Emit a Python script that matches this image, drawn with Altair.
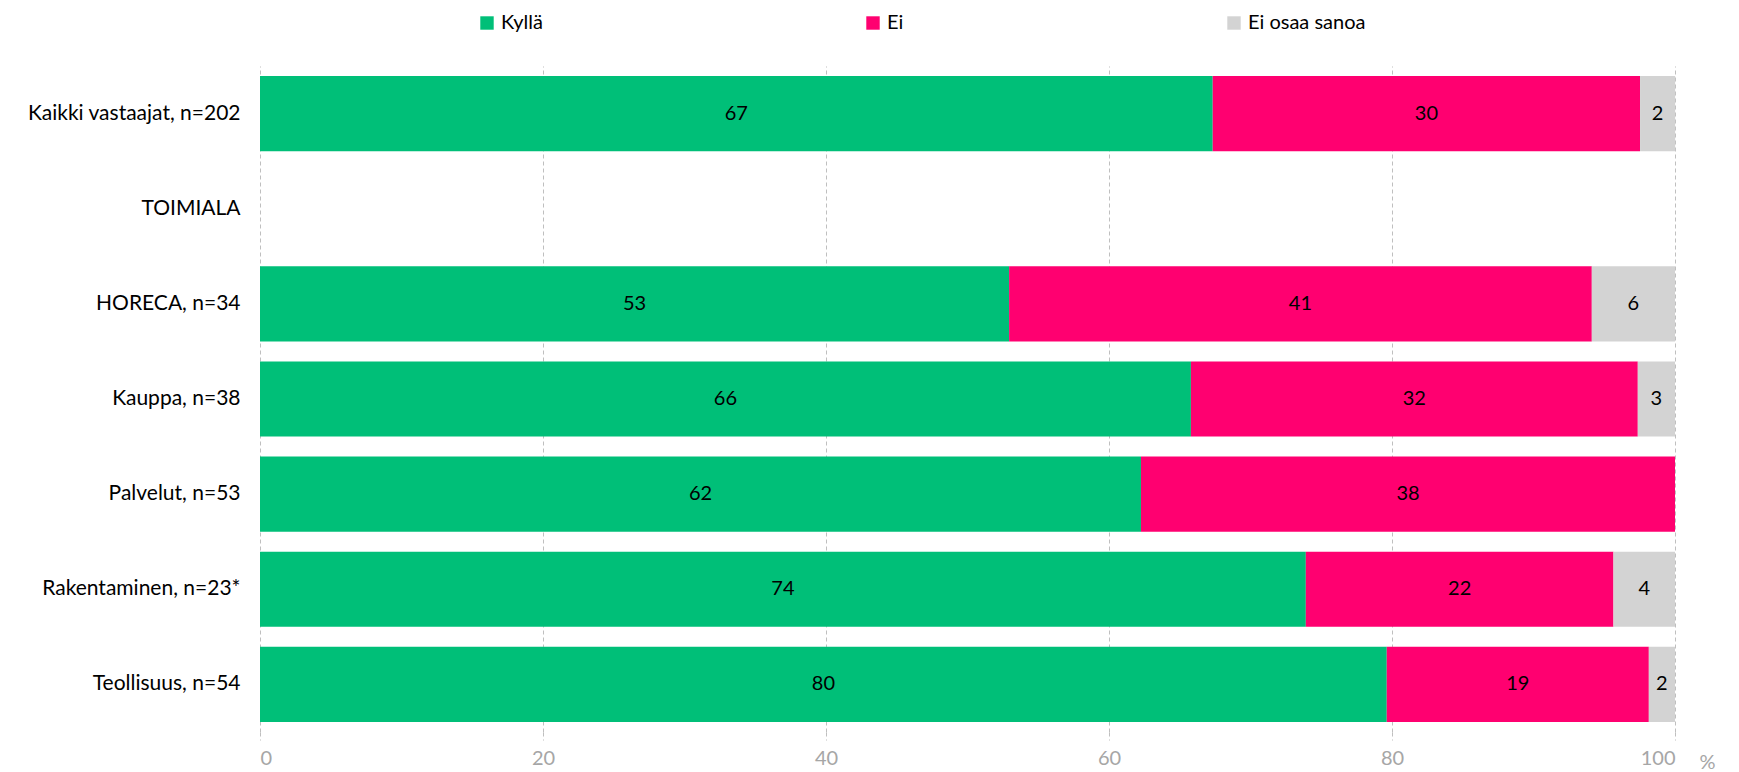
import altair as alt
import pandas as pd

categories = ["Kaikki vastaajat, n=202", "TOIMIALA", "HORECA, n=34", "Kauppa, n=38",
              "Palvelut, n=53", "Rakentaminen, n=23*", "Teollisuus, n=54"]
rows = ["Kaikki vastaajat, n=202", "HORECA, n=34", "Kauppa, n=38",
        "Palvelut, n=53", "Rakentaminen, n=23*", "Teollisuus, n=54"]
series = ["Kyllä", "Ei", "Ei osaa sanoa"]
colors = ["#00BF78", "#FF0070", "#D3D3D3"]
kylla = [67.33, 52.94, 65.79, 62.26, 73.91, 79.63]
ei = [30.20, 41.18, 31.58, 37.74, 21.74, 18.52]
ei_osaa = [2.48, 5.88, 2.63, 0.0, 4.35, 1.85]
x_ticks = [0, 20, 40, 60, 80, 100]

recs = []
for i, r in enumerate(rows):
    for j, (s, vals) in enumerate(zip(series, [kylla, ei, ei_osaa])):
        recs.append({"row": r, "series": s, "order": j, "value": vals[i]})
df = pd.DataFrame(recs)

FONT = "Lato"

y_enc = alt.Y("row:N", scale=alt.Scale(domain=categories, paddingInner=0.21, paddingOuter=0.105),
              axis=alt.Axis(title=None, domain=False, ticks=False, labelFontSize=21,
                            labelColor="#000000", labelPadding=20, labelFont=FONT,
                            labelLimit=260, minExtent=252, maxExtent=252, grid=False))

base = alt.Chart(df).transform_stack(
    stack="value", groupby=["row"], as_=["x0", "x1"],
    sort=[alt.SortField("order", order="ascending")]
)

bars = base.mark_bar().encode(
    x=alt.X("x0:Q", scale=alt.Scale(domain=[0, 100], nice=False),
            axis=alt.Axis(values=x_ticks, grid=True, gridDash=[4, 3], gridColor="#BFBFBF",
                          domain=False, tickDash=[4, 3], tickColor="#BFBFBF", tickSize=8,
                          labelColor="#A6A6A6", labelFontSize=20, labelFont=FONT,
                          labelPadding=8, title="%", titleFontWeight="normal",
                          titleFontSize=20, titleColor="#A6A6A6", titleFont=FONT,
                          titleX=1439, titleY=30, titleAlign="left",
                          titleBaseline="middle", titleAngle=0)),
    x2="x1:Q",
    y=y_enc,
    color=alt.Color("series:N", scale=alt.Scale(domain=series, range=colors),
                    legend=alt.Legend(title=None, orient="none", legendX=217, legendY=-53,
                                      direction="horizontal", columnPadding=320,
                                      symbolType="square", symbolSize=180,
                                      symbolStrokeWidth=0, labelFontSize=20,
                                      labelFont=FONT, labelColor="#000000", labelOffset=4)),
)

labels = base.transform_filter("datum.value > 0").transform_calculate(
    mid="(datum.x0 + datum.x1) / 2"
).mark_text(fontSize=20, font=FONT, color="#000000").encode(
    x=alt.X("mid:Q"),
    y=alt.Y("row:N", scale=alt.Scale(domain=categories)),
    text=alt.Text("value:Q", format=".0f"),
)

chart = alt.layer(bars, labels).properties(
    width=1415, height=666,
    padding={"left": 0, "top": 5, "right": 10, "bottom": 5},
).configure_view(stroke=None)

chart.save("out.html", embed_options={"renderer": "svg", "actions": False})
